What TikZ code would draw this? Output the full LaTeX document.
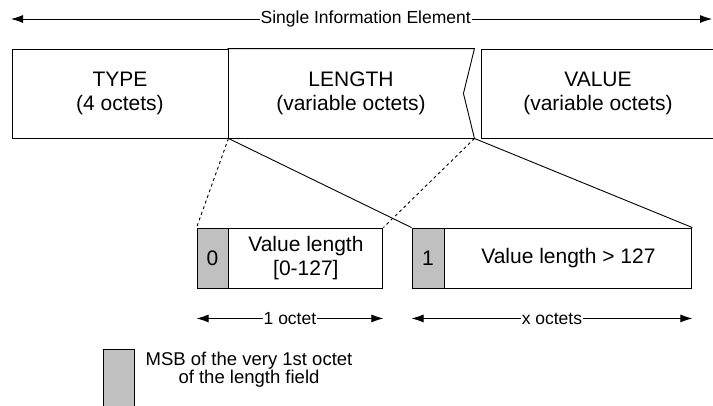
\documentclass[tikz,border=0pt]{standalone}
\usepackage{fontspec}
\setmainfont{Liberation Sans}
\usepackage{xcolor}
\usetikzlibrary{arrows.meta, positioning}

\definecolor{msbgray}{HTML}{C0C0C0}

\begin{document}
\begin{tikzpicture}[
        x=1pt, y=-1pt, line width=0.9pt,
        field/.style={draw, minimum height=89pt, inner sep=0pt, align=center,
            font=\fontsize{21}{24}\selectfont},
        msb/.style={draw, fill=msbgray, minimum width=31pt, minimum height=60pt,
            inner sep=0pt, font=\fontsize{21}{24}\selectfont},
        lenfield/.style={draw, minimum height=60pt, inner sep=0pt, align=center,
            font=\fontsize{21}{24}\selectfont},
        dim/.style={{Latex[length=12pt,width=8pt]}-{Latex[length=12pt,width=8pt]}, line width=0.8pt},
        dimlabel/.style={fill=white, inner sep=1pt, font=\fontsize{17.5}{20}\selectfont}
        ]

        \clip (0,0) rectangle (713,405);

        % Whole element
        \coordinate (ieL) at (11,19);
        \coordinate (ieR) at (712,19);
        \draw[dim] (ieL) -- (ieR) node[dimlabel, pos=0.506] {Single Information Element};

        % Top row
        \node[field, minimum width=216pt] (type) at (120,93.5) {TYPE\\(4 octets)};
        \node[field, minimum width=246pt, draw=none] (length) at (351,93.5) {LENGTH\\(variable octets)};
        \draw (length.north west) -- (length.north east) -- ([xshift=-11pt]length.east)
            -- (length.south east) -- (length.south west);
        \node[field, minimum width=234pt] (value) at (598,93.5) {VALUE\\(variable octets)};

        % Length encodings
        \node[msb] (zero) at (212.5,258) {0};
        \node[lenfield, minimum width=154pt, right=0pt of zero] (len0) {Value length\\{[0-127]}};
        \node[msb, minimum width=32pt] (one) at (428,258) {1};
        \node[lenfield, minimum width=247pt, right=0pt of one] (len1) {Value length > 127};

        % Zoom lines
        \draw[dashed] (type.south east) -- (zero.north west);
        \draw (type.south east) -- (one.north west);
        \draw[dashed] (length.south east) -- (len0.north east);
        \draw (length.south east) -- (len1.north east);

        % Sizes
        \draw[dim] ([yshift=-30pt]zero.south west) -- ([yshift=-30pt]len0.south east)
            node[dimlabel, midway] {1 octet};
        \draw[dim] ([yshift=-30pt]one.south west) -- ([yshift=-30pt]len1.south east)
            node[dimlabel, midway] {x octets};

        % Legend
        \node[msb, minimum height=70pt] (key) at (119,384) {};
        \node[align=center, font=\fontsize{18.5}{17.5}\selectfont] (keytext) at (249,369.5)
            {MSB of the very 1st octet\\of the length field};

    \end{tikzpicture}
\end{document}
